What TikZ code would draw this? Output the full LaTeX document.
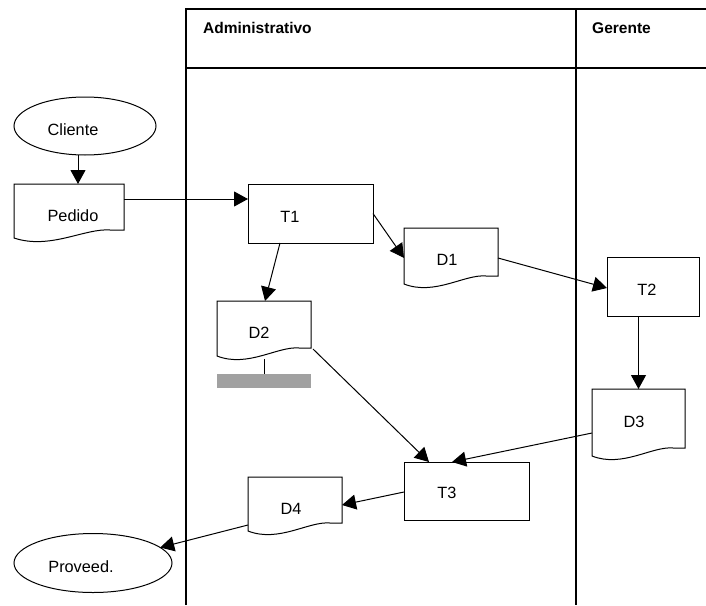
\documentclass[tikz,border=0pt]{standalone}
\usepackage{fontspec}
\setmainfont{Liberation Sans}
\usetikzlibrary{calc,arrows.meta,shapes.geometric}
\tikzset{
  shapeline/.style={draw=black, line width=1pt},
  lane/.style={draw=black, line width=1.3pt},
  procbox/.style={shapeline, rectangle, inner sep=0pt, outer sep=0pt},
  docbox/.style={rectangle, draw=none, inner sep=0pt, outer sep=0pt},
  entity/.style={shapeline, ellipse, inner sep=0pt, outer sep=0pt},
  lbl/.style={inner sep=0pt, font=\fontsize{16.3}{19}\selectfont},
  lanelbl/.style={inner sep=0pt, anchor=west, font=\fontsize{15.5}{18}\selectfont\bfseries},
  arr/.style={draw=black, line width=1pt, -{Triangle[length=14pt,width=15pt]}},
  storebar/.style={fill=black!37, draw=none, inner sep=0pt, outer sep=0pt}
}
\newcommand\docdraw[1]{%
  \draw[shapeline] (#1.north west) -- (#1.north east) -- (#1.south east)
    -- ($(#1.south east)!0.127!(#1.south west)$)
    .. controls ($(#1.south east)!0.355!(#1.south west)+(0,-2)$)
    and ($(#1.south east)!0.673!(#1.south west)+(0,20)$)
    .. ($(#1.south west)+(0,8)$) -- cycle;}
\begin{document}
\begin{tikzpicture}[x=1pt,y=-1pt]
\useasboundingbox (0,0) rectangle (706,605);
% swimlanes
\draw[lane] (186,605) -- (186,9) -- (706,9);
\draw[lane] (186,68) -- (706,68);
\draw[lane] (576,9) -- (576,605);
\node[lanelbl] (ladm) at (203,28) {Administrativo};
\node[lanelbl] (lger) at (592,28) {Gerente};
% shapes
\node[entity, minimum width=142pt, minimum height=58pt] (cliente) at (85,126) {};
\node[entity, minimum width=158pt, minimum height=59pt] (proveed) at (93,563) {};
\node[docbox, minimum width=110pt, minimum height=46pt] (pedido) at (69,207) {};
\node[docbox, minimum width=94pt, minimum height=48pt] (d1) at (451,252) {};
\node[docbox, minimum width=94pt, minimum height=47pt] (d2) at (264,324.5) {};
\node[docbox, minimum width=93pt, minimum height=59pt] (d3) at (638.5,418.5) {};
\node[docbox, minimum width=94pt, minimum height=46pt] (d4) at (295,500) {};
\node[procbox, minimum width=125pt, minimum height=59pt] (t1) at (310.5,213.5) {};
\node[procbox, minimum width=92pt, minimum height=59pt] (t2) at (653,286.5) {};
\node[procbox, minimum width=125pt, minimum height=58pt] (t3) at (466.5,491) {};
\node[storebar, minimum width=94pt, minimum height=14pt] (store) at (264,381) {};
\docdraw{pedido}
\docdraw{d1}
\docdraw{d2}
\docdraw{d3}
\docdraw{d4}
% labels
\node[lbl] (lcli) at (73,130) {Cliente};
\node[lbl] (lped) at (73,216) {Pedido};
\node[lbl] (lt1) at (290,217) {T1};
\node[lbl] (ld1) at (447,260) {D1};
\node[lbl] (ld2) at (259,333) {D2};
\node[lbl] (lt2) at (647,290) {T2};
\node[lbl] (ld3) at (634,422) {D3};
\node[lbl] (lt3) at (447,493) {T3};
\node[lbl] (ld4) at (291,509) {D4};
\node[lbl] (lprov) at (81,567) {Proveed.};
% connectors
\coordinate (c1) at ($(cliente.south)+(-7,0)$);
\draw[arr] (c1) -- (c1 |- pedido.north);
\coordinate (c2) at ($(pedido.north east)+(0,15)$);
\draw[arr] (c2) -- (t1.west |- c2);
\draw[arr] (t1.east) -- ($(d1.west)+(0,6)$);
\draw[arr] ($(t1.south)+(-30.5,0)$) -- ($(d2.north)+(1,0)$);
\draw[arr] ($(d1.east)+(0,6)$) -- ($(t2.west)+(0,1.5)$);
\draw[arr] (t2.south -| d3.north) -- (d3.north);
\draw[arr] ($(d3.west)+(0,14.5)$) -- ($(t3.north)+(-14.5,0)$);
\draw[arr] ($(d2.south east)+(2,1)$) -- ($(t3.north west)+(25,0)$);
\draw[arr] ($(t3.west)+(0,1)$) -- ($(d4.east)+(0,5)$);
\draw[arr] ($(d4.south west)+(0,2)$) -- (proveed.13);
\draw[shapeline] ($(d2.south)+(0,11)$) -- (store.north);
\end{tikzpicture}
\end{document}
